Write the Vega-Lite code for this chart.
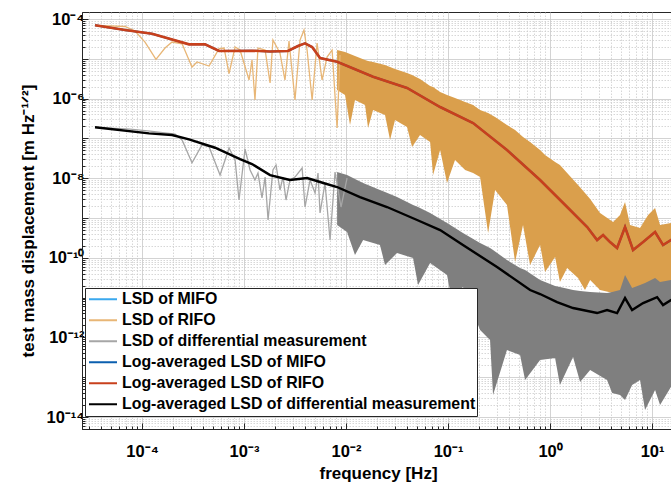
{
 "$schema": "https://vega.github.io/schema/vega-lite/v6.json",
 "autosize": {"type": "none"},
 "padding": {"left": 82, "top": 12, "right": 0, "bottom": 53},
 "width": 592,
 "height": 417,
 "background": "white",
 "config": {"view": {"stroke": "#262626", "strokeWidth": 1}, "font": "Liberation Sans"},
 "datasets": {
  "lines": [
   {"s":"LSD of MIFO","f":8.17e-3,"v":8.45e-6},{"s":"LSD of MIFO","f":8.36e-2,"v":6.15e-7},{"s":"LSD of MIFO","f":0.798,"v":9.02e-9},{"s":"LSD of MIFO","f":2.89,"v":2.8e-10},{"s":"LSD of MIFO","f":16.4,"v":3.14e-10},
   {"s":"LSD of RIFO","f":3.46e-5,"v":6.95e-5},{"s":"LSD of RIFO","f":6.81e-5,"v":6.48e-5},{"s":"LSD of RIFO","f":8.54e-5,"v":4.99e-5},{"s":"LSD of RIFO","f":1.07e-4,"v":2.64e-5},{"s":"LSD of RIFO","f":1.37e-4,"v":9.7e-6},{"s":"LSD of RIFO","f":1.68e-4,"v":1.87e-5},{"s":"LSD of RIFO","f":1.97e-4,"v":2.64e-5},{"s":"LSD of RIFO","f":2.47e-4,"v":2.39e-5},{"s":"LSD of RIFO","f":3.09e-4,"v":6.22e-6},{"s":"LSD of RIFO","f":3.46e-4,"v":8.32e-6},{"s":"LSD of RIFO","f":4.54e-4,"v":6.59e-6},{"s":"LSD of RIFO","f":5.69e-4,"v":1.8e-5},{"s":"LSD of RIFO","f":6.37e-4,"v":1.87e-5},{"s":"LSD of RIFO","f":7.13e-4,"v":4.23e-6},{"s":"LSD of RIFO","f":8.17e-4,"v":1.98e-5},{"s":"LSD of RIFO","f":9.14e-4,"v":1.66e-5},{"s":"LSD of RIFO","f":1.12e-3,"v":2.93e-6},{"s":"LSD of RIFO","f":1.197e-3,"v":9.33e-6},{"s":"LSD of RIFO","f":1.28e-3,"v":9.23e-7},{"s":"LSD of RIFO","f":1.37e-3,"v":1.87e-5},{"s":"LSD of RIFO","f":1.61e-3,"v":1.66e-5},{"s":"LSD of RIFO","f":1.8e-3,"v":2.47e-6},{"s":"LSD of RIFO","f":1.92e-3,"v":2.96e-5},{"s":"LSD of RIFO","f":2.25e-3,"v":1.4e-5},{"s":"LSD of RIFO","f":2.52e-3,"v":2.93e-6},{"s":"LSD of RIFO","f":2.76e-3,"v":2.8e-5},{"s":"LSD of RIFO","f":3.16e-3,"v":9.23e-7},{"s":"LSD of RIFO","f":3.54e-3,"v":2.96e-5},{"s":"LSD of RIFO","f":3.87e-3,"v":5.3e-5},{"s":"LSD of RIFO","f":4.15e-3,"v":1.66e-5},{"s":"LSD of RIFO","f":4.65e-3,"v":9.23e-7},{"s":"LSD of RIFO","f":5.2e-3,"v":2.49e-5},{"s":"LSD of RIFO","f":5.82e-3,"v":2.93e-6},{"s":"LSD of RIFO","f":6.51e-3,"v":1.11e-5},{"s":"LSD of RIFO","f":7.3e-3,"v":1.66e-5},{"s":"LSD of RIFO","f":8.17e-3,"v":1.82e-7},{"s":"LSD of RIFO","f":8.73e-3,"v":1.25e-5},
   {"s":"LSD of differential measurement","f":3.46e-5,"v":1.9e-7},{"s":"LSD of differential measurement","f":7.63e-5,"v":1.72e-7},{"s":"LSD of differential measurement","f":1.197e-4,"v":1.53e-7},{"s":"LSD of differential measurement","f":2.11e-4,"v":1.29e-7},{"s":"LSD of differential measurement","f":2.47e-4,"v":9.12e-8},{"s":"LSD of differential measurement","f":3.09e-4,"v":2.45e-8},{"s":"LSD of differential measurement","f":3.87e-4,"v":6.82e-8},{"s":"LSD of differential measurement","f":4.54e-4,"v":6.18e-8},{"s":"LSD of differential measurement","f":5.82e-4,"v":1.2e-8},{"s":"LSD of differential measurement","f":7.13e-4,"v":5.74e-8},{"s":"LSD of differential measurement","f":8.17e-4,"v":2.86e-8},{"s":"LSD of differential measurement","f":8.93e-4,"v":2.83e-9},{"s":"LSD of differential measurement","f":1.023e-3,"v":5.42e-8},{"s":"LSD of differential measurement","f":1.146e-3,"v":1.61e-8},{"s":"LSD of differential measurement","f":1.28e-3,"v":9.02e-9},{"s":"LSD of differential measurement","f":1.37e-3,"v":1.35e-8},{"s":"LSD of differential measurement","f":1.5e-3,"v":3.18e-9},{"s":"LSD of differential measurement","f":1.61e-3,"v":1.07e-8},{"s":"LSD of differential measurement","f":1.72e-3,"v":8.91e-10},{"s":"LSD of differential measurement","f":1.92e-3,"v":1.61e-8},{"s":"LSD of differential measurement","f":2.06e-3,"v":2.15e-8},{"s":"LSD of differential measurement","f":2.25e-3,"v":5.06e-9},{"s":"LSD of differential measurement","f":2.41e-3,"v":1.07e-8},{"s":"LSD of differential measurement","f":2.58e-3,"v":2.83e-9},{"s":"LSD of differential measurement","f":2.82e-3,"v":9.02e-9},{"s":"LSD of differential measurement","f":3.16e-3,"v":1.07e-8},{"s":"LSD of differential measurement","f":3.71e-3,"v":1.8e-8},{"s":"LSD of differential measurement","f":3.96e-3,"v":1.89e-9},{"s":"LSD of differential measurement","f":4.44e-3,"v":9.02e-9},{"s":"LSD of differential measurement","f":4.97e-3,"v":4.25e-9},{"s":"LSD of differential measurement","f":5.31e-3,"v":1.35e-8},{"s":"LSD of differential measurement","f":5.56e-3,"v":1.34e-9},{"s":"LSD of differential measurement","f":6.22e-3,"v":7.57e-9},{"s":"LSD of differential measurement","f":6.97e-3,"v":2.8e-10},{"s":"LSD of differential measurement","f":7.8e-3,"v":1.43e-8},{"s":"LSD of differential measurement","f":8.93e-3,"v":1.89e-9},{"s":"LSD of differential measurement","f":1.023e-2,"v":1.01e-8},
   {"s":"Log-averaged LSD of MIFO","f":3.46e-5,"v":6.95e-5},{"s":"Log-averaged LSD of MIFO","f":6.81e-5,"v":5.3e-5},{"s":"Log-averaged LSD of MIFO","f":1.253e-4,"v":4.28e-5},{"s":"Log-averaged LSD of MIFO","f":2.89e-4,"v":2.31e-5},{"s":"Log-averaged LSD of MIFO","f":4.15e-4,"v":2.31e-5},{"s":"Log-averaged LSD of MIFO","f":5.69e-4,"v":1.57e-5},{"s":"Log-averaged LSD of MIFO","f":1.197e-3,"v":1.6e-5},{"s":"Log-averaged LSD of MIFO","f":1.8e-3,"v":1.52e-5},{"s":"Log-averaged LSD of MIFO","f":2.7e-3,"v":1.57e-5},{"s":"Log-averaged LSD of MIFO","f":3.38e-3,"v":2.1e-5},{"s":"Log-averaged LSD of MIFO","f":3.96e-3,"v":2.45e-5},{"s":"Log-averaged LSD of MIFO","f":4.65e-3,"v":1.98e-5},{"s":"Log-averaged LSD of MIFO","f":5.56e-3,"v":1.05e-5},{"s":"Log-averaged LSD of MIFO","f":8.17e-3,"v":8.45e-6},{"s":"Log-averaged LSD of MIFO","f":1.84e-2,"v":3.55e-6},{"s":"Log-averaged LSD of MIFO","f":3.96e-2,"v":1.85e-6},{"s":"Log-averaged LSD of MIFO","f":8.36e-2,"v":6.15e-7},{"s":"Log-averaged LSD of MIFO","f":0.176,"v":2.44e-7},{"s":"Log-averaged LSD of MIFO","f":0.378,"v":5.12e-8},{"s":"Log-averaged LSD of MIFO","f":0.798,"v":9.02e-9},{"s":"Log-averaged LSD of MIFO","f":1.47,"v":1.89e-9},{"s":"Log-averaged LSD of MIFO","f":2.31,"v":5.94e-10},{"s":"Log-averaged LSD of MIFO","f":2.89,"v":2.8e-10},{"s":"Log-averaged LSD of MIFO","f":3.31,"v":3.74e-10},{"s":"Log-averaged LSD of MIFO","f":3.87,"v":2.49e-10},{"s":"Log-averaged LSD of MIFO","f":4.54,"v":1.76e-10},{"s":"Log-averaged LSD of MIFO","f":5.43,"v":5.94e-10},{"s":"Log-averaged LSD of MIFO","f":6.51,"v":1.57e-10},{"s":"Log-averaged LSD of MIFO","f":8.17,"v":2.49e-10},{"s":"Log-averaged LSD of MIFO","f":10.7,"v":4.45e-10},{"s":"Log-averaged LSD of MIFO","f":12.8,"v":2.1e-10},{"s":"Log-averaged LSD of MIFO","f":15.3,"v":2.8e-10},{"s":"Log-averaged LSD of MIFO","f":16.4,"v":3.14e-10},
   {"s":"Log-averaged LSD of RIFO","f":3.46e-5,"v":6.95e-5},{"s":"Log-averaged LSD of RIFO","f":6.81e-5,"v":5.3e-5},{"s":"Log-averaged LSD of RIFO","f":1.253e-4,"v":4.28e-5},{"s":"Log-averaged LSD of RIFO","f":2.89e-4,"v":2.31e-5},{"s":"Log-averaged LSD of RIFO","f":4.15e-4,"v":2.31e-5},{"s":"Log-averaged LSD of RIFO","f":5.69e-4,"v":1.57e-5},{"s":"Log-averaged LSD of RIFO","f":1.197e-3,"v":1.6e-5},{"s":"Log-averaged LSD of RIFO","f":1.8e-3,"v":1.52e-5},{"s":"Log-averaged LSD of RIFO","f":2.7e-3,"v":1.57e-5},{"s":"Log-averaged LSD of RIFO","f":3.38e-3,"v":2.1e-5},{"s":"Log-averaged LSD of RIFO","f":3.96e-3,"v":2.45e-5},{"s":"Log-averaged LSD of RIFO","f":4.65e-3,"v":1.98e-5},{"s":"Log-averaged LSD of RIFO","f":5.56e-3,"v":1.05e-5},{"s":"Log-averaged LSD of RIFO","f":8.17e-3,"v":8.45e-6},{"s":"Log-averaged LSD of RIFO","f":1.84e-2,"v":3.55e-6},{"s":"Log-averaged LSD of RIFO","f":3.96e-2,"v":1.85e-6},{"s":"Log-averaged LSD of RIFO","f":8.36e-2,"v":6.15e-7},{"s":"Log-averaged LSD of RIFO","f":0.176,"v":2.44e-7},{"s":"Log-averaged LSD of RIFO","f":0.378,"v":5.12e-8},{"s":"Log-averaged LSD of RIFO","f":0.798,"v":9.02e-9},{"s":"Log-averaged LSD of RIFO","f":1.47,"v":1.89e-9},{"s":"Log-averaged LSD of RIFO","f":2.31,"v":5.94e-10},{"s":"Log-averaged LSD of RIFO","f":2.89,"v":2.8e-10},{"s":"Log-averaged LSD of RIFO","f":3.31,"v":3.74e-10},{"s":"Log-averaged LSD of RIFO","f":3.87,"v":2.49e-10},{"s":"Log-averaged LSD of RIFO","f":4.54,"v":1.76e-10},{"s":"Log-averaged LSD of RIFO","f":5.43,"v":5.94e-10},{"s":"Log-averaged LSD of RIFO","f":6.51,"v":1.57e-10},{"s":"Log-averaged LSD of RIFO","f":8.17,"v":2.49e-10},{"s":"Log-averaged LSD of RIFO","f":10.7,"v":4.45e-10},{"s":"Log-averaged LSD of RIFO","f":12.8,"v":2.1e-10},{"s":"Log-averaged LSD of RIFO","f":15.3,"v":2.8e-10},{"s":"Log-averaged LSD of RIFO","f":16.4,"v":3.14e-10},
   {"s":"Log-averaged LSD of differential measurement","f":3.46e-5,"v":1.9e-7},{"s":"Log-averaged LSD of differential measurement","f":1.17e-4,"v":1.34e-7},{"s":"Log-averaged LSD of differential measurement","f":1.97e-4,"v":1.22e-7},{"s":"Log-averaged LSD of differential measurement","f":2.89e-4,"v":9.48e-8},{"s":"Log-averaged LSD of differential measurement","f":5.2e-4,"v":5.83e-8},{"s":"Log-averaged LSD of differential measurement","f":9.14e-4,"v":3.03e-8},{"s":"Log-averaged LSD of differential measurement","f":1.197e-3,"v":2.27e-8},{"s":"Log-averaged LSD of differential measurement","f":1.8e-3,"v":1.2e-8},{"s":"Log-averaged LSD of differential measurement","f":2.82e-3,"v":9.02e-9},{"s":"Log-averaged LSD of differential measurement","f":4.15e-3,"v":1.01e-8},{"s":"Log-averaged LSD of differential measurement","f":5.56e-3,"v":8.04e-9},{"s":"Log-averaged LSD of differential measurement","f":8.17e-3,"v":6.01e-9},{"s":"Log-averaged LSD of differential measurement","f":1.37e-2,"v":3.37e-9},{"s":"Log-averaged LSD of differential measurement","f":2.52e-2,"v":1.89e-9},{"s":"Log-averaged LSD of differential measurement","f":4.97e-2,"v":8.91e-10},{"s":"Log-averaged LSD of differential measurement","f":8.36e-2,"v":4.99e-10},{"s":"Log-averaged LSD of differential measurement","f":0.14,"v":2.1e-10},{"s":"Log-averaged LSD of differential measurement","f":0.302,"v":5.87e-11},{"s":"Log-averaged LSD of differential measurement","f":0.637,"v":1.55e-11},{"s":"Log-averaged LSD of differential measurement","f":0.798,"v":1.23e-11},{"s":"Log-averaged LSD of differential measurement","f":1.17,"v":7.74e-12},{"s":"Log-averaged LSD of differential measurement","f":1.68,"v":5.48e-12},{"s":"Log-averaged LSD of differential measurement","f":2.89,"v":4.1e-12},{"s":"Log-averaged LSD of differential measurement","f":3.62,"v":4.88e-12},{"s":"Log-averaged LSD of differential measurement","f":4.54,"v":4.1e-12},{"s":"Log-averaged LSD of differential measurement","f":5.43,"v":9.77e-12},{"s":"Log-averaged LSD of differential measurement","f":6.37,"v":4.88e-12},{"s":"Log-averaged LSD of differential measurement","f":8.17,"v":7.31e-12},{"s":"Log-averaged LSD of differential measurement","f":11.2,"v":1.03e-11},{"s":"Log-averaged LSD of differential measurement","f":12.8,"v":6.51e-12},{"s":"Log-averaged LSD of differential measurement","f":15.3,"v":8.7e-12},{"s":"Log-averaged LSD of differential measurement","f":16.4,"v":9.2e-12}
  ],
  "orangeBand": [
   {"f":8.17e-3,"hi":1.66e-5,"lo":1.64e-6},{"f":9.77e-3,"hi":1.48e-5,"lo":1.23e-6},{"f":1.094e-2,"hi":1.32e-5,"lo":2.17e-7},{"f":1.224e-2,"hi":1.17e-5,"lo":9.23e-7},{"f":1.535e-2,"hi":9.33e-6,"lo":6.9e-7},{"f":1.644e-2,"hi":8.81e-6,"lo":1.82e-7},{"f":1.84e-2,"hi":8.32e-6,"lo":5.17e-7},{"f":2.41e-2,"hi":6.98e-6,"lo":3.87e-7},{"f":2.7e-2,"hi":6.22e-6,"lo":9.12e-8},{"f":3.02e-2,"hi":5.54e-6,"lo":2.9e-7},{"f":3.96e-2,"hi":4.4e-6,"lo":1.93e-7},{"f":4.44e-2,"hi":3.92e-6,"lo":6.08e-8},{"f":5.31e-2,"hi":3.11e-6,"lo":1.22e-7},{"f":6.67e-2,"hi":2.07e-6,"lo":8.12e-8},{"f":7.13e-2,"hi":1.96e-6,"lo":1.2e-8},{"f":8.36e-2,"hi":1.47e-6,"lo":5.12e-8},{"f":9.77e-2,"hi":1.23e-6,"lo":7.57e-9},{"f":0.117,"hi":1.04e-6,"lo":2.86e-8},{"f":0.147,"hi":8.22e-7,"lo":1.61e-8},{"f":0.176,"hi":6.9e-7,"lo":1.35e-8},{"f":0.206,"hi":5.17e-7,"lo":1.07e-8},{"f":0.247,"hi":4.35e-7,"lo":4.2e-10},{"f":0.289,"hi":3.45e-7,"lo":5.06e-9},{"f":0.378,"hi":2.17e-7,"lo":2.12e-9},{"f":0.454,"hi":1.63e-7,"lo":7.84e-11},{"f":0.543,"hi":1.08e-7,"lo":6.67e-10},{"f":0.637,"hi":8.12e-8,"lo":6.59e-11},{"f":0.798,"hi":5.12e-8,"lo":2.1e-10},{"f":0.893,"hi":3.83e-8,"lo":4.39e-11},{"f":1.12,"hi":2.55e-8,"lo":1.05e-10},{"f":1.25,"hi":2.15e-8,"lo":2.47e-11},{"f":1.47,"hi":1.35e-8,"lo":5.54e-11},{"f":1.88,"hi":6.74e-9,"lo":3.1e-11},{"f":2.2,"hi":4.25e-9,"lo":1.55e-11},{"f":2.47,"hi":3.0e-9,"lo":2.77e-11},{"f":3.09,"hi":1.34e-9,"lo":1.55e-11},{"f":4.15,"hi":7.93e-10,"lo":1.31e-11},{"f":4.85,"hi":1.19e-9,"lo":1.23e-11},{"f":5.43,"hi":2.52e-9,"lo":1.23e-11},{"f":6.08,"hi":6.67e-10,"lo":1.23e-11},{"f":7.62,"hi":5.61e-10,"lo":1.16e-11},{"f":9.14,"hi":1.19e-9,"lo":1.16e-11},{"f":10.7,"hi":1.78e-9,"lo":1.16e-11},{"f":11.97,"hi":6.67e-10,"lo":1.16e-11},{"f":15.3,"hi":7.49e-10,"lo":1.16e-11},{"f":16.4,"hi":8.0e-10,"lo":1.16e-11}
  ],
  "grayBand": [
   {"f":8.17e-3,"hi":1.43e-8,"lo":6.67e-10},{"f":1.023e-2,"hi":1.2e-8,"lo":4.45e-10},{"f":1.224e-2,"hi":9.55e-9,"lo":1.17e-10},{"f":1.47e-2,"hi":7.57e-9,"lo":2.8e-10},{"f":2.15e-2,"hi":5.06e-9,"lo":2.1e-10},{"f":2.41e-2,"hi":4.5e-9,"lo":6.59e-11},{"f":3.16e-2,"hi":3.37e-9,"lo":1.32e-10},{"f":4.54e-2,"hi":2.12e-9,"lo":9.89e-11},{"f":5.08e-2,"hi":1.89e-9,"lo":2.07e-11},{"f":6.67e-2,"hi":1.34e-9,"lo":7.39e-11},{"f":9.77e-2,"hi":7.49e-10,"lo":3.7e-11},{"f":0.109,"hi":6.3e-10,"lo":8.7e-12},{"f":0.14,"hi":4.2e-10,"lo":1.85e-11},{"f":0.206,"hi":2.36e-10,"lo":1.53e-12},{"f":0.258,"hi":1.76e-10,"lo":8.61e-13},{"f":0.276,"hi":1.57e-10,"lo":3.57e-14},{"f":0.378,"hi":8.81e-11,"lo":4.82e-13},{"f":0.508,"hi":5.54e-11,"lo":3.61e-13},{"f":0.569,"hi":4.93e-11,"lo":8.51e-14},{"f":0.798,"hi":2.77e-11,"lo":2.7e-13},{"f":1.12,"hi":1.95e-11,"lo":3.03e-13},{"f":1.25,"hi":1.85e-11,"lo":6.37e-14},{"f":1.68,"hi":1.55e-11,"lo":3.22e-13},{"f":1.97,"hi":1.47e-11,"lo":7.57e-14},{"f":2.47,"hi":1.38e-11,"lo":1.52e-13},{"f":3.62,"hi":1.31e-11,"lo":8.51e-14},{"f":4.06,"hi":1.38e-11,"lo":4.01e-14},{"f":4.85,"hi":1.55e-11,"lo":3.57e-14},{"f":5.43,"hi":3.7e-11,"lo":2.67e-14},{"f":6.37,"hi":1.74e-11,"lo":6.37e-14},{"f":7.62,"hi":2.07e-11,"lo":8.51e-14},{"f":8.53,"hi":2.33e-11,"lo":1.5e-14},{"f":10.7,"hi":3.1e-11,"lo":4.76e-14},{"f":11.97,"hi":2.47e-11,"lo":2.0e-14},{"f":15.3,"hi":2.77e-11,"lo":5.68e-14},{"f":16.4,"hi":2.77e-11,"lo":6.0e-14}
  ]
 },
 "layer": [
  {
   "data": {"name": "lines"},
   "transform": [{"filter": "datum.s === 'LSD of MIFO'"}],
   "mark": {"type": "line", "strokeWidth": 1.2, "clip": true},
   "encoding": {
    "x": {"field": "f", "type": "quantitative", "scale": {"type": "log", "domain": [2.58e-5, 16.4], "nice": false},
     "axis": {"orient": "bottom",
      "values": [3e-5,4e-5,5e-5,6e-5,7e-5,8e-5,9e-5,1e-4,2e-4,3e-4,4e-4,5e-4,6e-4,7e-4,8e-4,9e-4,1e-3,2e-3,3e-3,4e-3,5e-3,6e-3,7e-3,8e-3,9e-3,0.01,0.02,0.03,0.04,0.05,0.06,0.07,0.08,0.09,0.1,0.2,0.3,0.4,0.5,0.6,0.7,0.8,0.9,1,2,3,4,5,6,7,8,9,10],
      "labelExpr": "abs(log(datum.value)/LN10 - round(log(datum.value)/LN10)) < 0.001 ? ['10⁻⁴','10⁻³','10⁻²','10⁻¹','10⁰','10¹'][round(log(datum.value)/LN10)+4] : ''",
      "labelFont": "Liberation Sans", "labelFontWeight": "bold", "labelFontSize": 16.5, "labelColor": "#000000", "labelOverlap": false, "labelFlush": false, "labelPadding": 20,
      "title": "frequency [Hz]", "titleFont": "Liberation Sans", "titleFontWeight": "bold", "titleFontSize": 17, "titleColor": "#000000", "titleX": 296, "titleY": 49, "titleBaseline": "alphabetic", "titleAlign": "center",
      "grid": true,
      "gridColor": {"condition": {"test": "abs(log(datum.value)/LN10 - round(log(datum.value)/LN10)) < 0.001", "value": "#c8c8c8"}, "value": "#cdcdcd"},
      "gridDash": {"condition": {"test": "abs(log(datum.value)/LN10 - round(log(datum.value)/LN10)) < 0.001", "value": []}, "value": [1.5, 1.5]},
      "gridWidth": 0.8,
      "tickColor": "#262626", "tickWidth": 1,
      "tickSize": {"condition": {"test": "abs(log(datum.value)/LN10 - round(log(datum.value)/LN10)) < 0.001", "value": -6}, "value": -3},
      "domainColor": "#262626", "domainWidth": 1}},
    "y": {"field": "v", "type": "quantitative", "scale": {"type": "log", "domain": [5e-15, 1.5e-4], "nice": false},
     "axis": {"orient": "left",
      "values": [5e-15,6e-15,7e-15,8e-15,9e-15,1e-14,2e-14,3e-14,4e-14,5e-14,6e-14,7e-14,8e-14,9e-14,1e-13,2e-13,3e-13,4e-13,5e-13,6e-13,7e-13,8e-13,9e-13,1e-12,2e-12,3e-12,4e-12,5e-12,6e-12,7e-12,8e-12,9e-12,1e-11,2e-11,3e-11,4e-11,5e-11,6e-11,7e-11,8e-11,9e-11,1e-10,2e-10,3e-10,4e-10,5e-10,6e-10,7e-10,8e-10,9e-10,1e-9,2e-9,3e-9,4e-9,5e-9,6e-9,7e-9,8e-9,9e-9,1e-8,2e-8,3e-8,4e-8,5e-8,6e-8,7e-8,8e-8,9e-8,1e-7,2e-7,3e-7,4e-7,5e-7,6e-7,7e-7,8e-7,9e-7,1e-6,2e-6,3e-6,4e-6,5e-6,6e-6,7e-6,8e-6,9e-6,1e-5,2e-5,3e-5,4e-5,5e-5,6e-5,7e-5,8e-5,9e-5,1e-4],
      "labelExpr": "abs(log(datum.value)/LN10 - round(log(datum.value)/LN10)) < 0.001 ? ['10⁻¹⁴','','10⁻¹²','','10⁻¹⁰','','10⁻⁸','','10⁻⁶','','10⁻⁴'][round(log(datum.value)/LN10)+14] : ''",
      "labelFont": "Liberation Sans", "labelFontWeight": "bold", "labelFontSize": 16.5, "labelColor": "#000000", "labelOverlap": false, "labelFlush": false, "labelPadding": 4,
      "title": "test mass displacement [m Hz⁻¹ᐟ²]", "titleFont": "Liberation Sans", "titleFontWeight": "bold", "titleFontSize": 17, "titleColor": "#000000", "titleAngle": 270, "titleX": -49, "titleY": 208.5, "titleBaseline": "alphabetic", "titleAlign": "center",
      "grid": true,
      "gridColor": {"condition": {"test": "abs(log(datum.value)/LN10 - round(log(datum.value)/LN10)) < 0.001", "value": "#c8c8c8"}, "value": "#cdcdcd"},
      "gridDash": {"condition": {"test": "abs(log(datum.value)/LN10 - round(log(datum.value)/LN10)) < 0.001", "value": []}, "value": [1.5, 1.5]},
      "gridWidth": 0.8,
      "tickColor": "#262626", "tickWidth": 1,
      "tickSize": {"condition": {"test": "abs(log(datum.value)/LN10 - round(log(datum.value)/LN10)) < 0.001", "value": -6}, "value": -3},
      "domainColor": "#262626", "domainWidth": 1}},
    "color": {"field": "s", "type": "nominal",
     "scale": {"domain": ["LSD of MIFO","LSD of RIFO","LSD of differential measurement","Log-averaged LSD of MIFO","Log-averaged LSD of RIFO","Log-averaged LSD of differential measurement"],
               "range": ["#3AA8EE","#E8B676","#A6A6A6","#0B5FAF","#C8401C","#000000"]},
     "legend": {"orient": "none", "legendX": 3, "legendY": 276, "title": null, "symbolType": "stroke", "symbolSize": 784, "symbolStrokeWidth": 2, "symbolOffset": 2,
      "labelFont": "Liberation Sans", "labelFontWeight": "bold", "labelFontSize": 15.9, "labelColor": "#000000", "labelLimit": 600, "labelOffset": 4,
      "clipHeight": 20.3, "rowPadding": 0, "padding": 1, "fillColor": "#ffffff", "strokeColor": "#262626"}}
   }
  },
  {
   "data": {"name": "orangeBand"},
   "mark": {"type": "area", "color": "#DA9F4C", "clip": true},
   "encoding": {
    "x": {"field": "f", "type": "quantitative"},
    "y": {"field": "hi", "type": "quantitative"},
    "y2": {"field": "lo"}
   }
  },
  {
   "data": {"name": "lines"},
   "transform": [{"filter": "datum.s === 'LSD of RIFO'"}],
   "mark": {"type": "line", "strokeWidth": 1.3, "clip": true},
   "encoding": {
    "x": {"field": "f", "type": "quantitative"},
    "y": {"field": "v", "type": "quantitative"},
    "color": {"field": "s", "type": "nominal"}
   }
  },
  {
   "data": {"name": "grayBand"},
   "mark": {"type": "area", "color": "#7F7F7F", "clip": true},
   "encoding": {
    "x": {"field": "f", "type": "quantitative"},
    "y": {"field": "hi", "type": "quantitative"},
    "y2": {"field": "lo"}
   }
  },
  {
   "data": {"name": "lines"},
   "transform": [{"filter": "datum.s === 'LSD of differential measurement'"}],
   "mark": {"type": "line", "strokeWidth": 1.3, "clip": true},
   "encoding": {
    "x": {"field": "f", "type": "quantitative"},
    "y": {"field": "v", "type": "quantitative"},
    "color": {"field": "s", "type": "nominal"}
   }
  },
  {
   "data": {"name": "lines"},
   "transform": [{"filter": "datum.s === 'Log-averaged LSD of MIFO'"}],
   "mark": {"type": "line", "strokeWidth": 2, "clip": true},
   "encoding": {
    "x": {"field": "f", "type": "quantitative"},
    "y": {"field": "v", "type": "quantitative"},
    "color": {"field": "s", "type": "nominal"}
   }
  },
  {
   "data": {"name": "lines"},
   "transform": [{"filter": "datum.s === 'Log-averaged LSD of RIFO'"}],
   "mark": {"type": "line", "strokeWidth": 2.6, "clip": true},
   "encoding": {
    "x": {"field": "f", "type": "quantitative"},
    "y": {"field": "v", "type": "quantitative"},
    "color": {"field": "s", "type": "nominal"}
   }
  },
  {
   "data": {"name": "lines"},
   "transform": [{"filter": "datum.s === 'Log-averaged LSD of differential measurement'"}],
   "mark": {"type": "line", "strokeWidth": 2.4, "clip": true},
   "encoding": {
    "x": {"field": "f", "type": "quantitative"},
    "y": {"field": "v", "type": "quantitative"},
    "color": {"field": "s", "type": "nominal"}
   }
  }
 ]
}
